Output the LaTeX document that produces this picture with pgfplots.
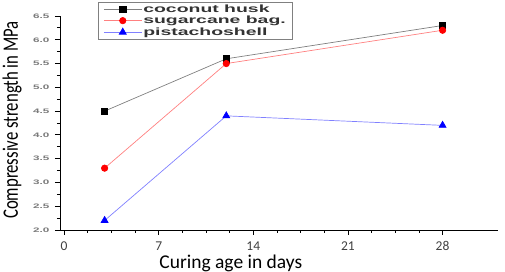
\documentclass[border=0pt]{standalone}
\usepackage{fontspec}
\setmainfont{Carlito}
\newfontfamily\tickfont{Liberation Sans Bold}[FakeStretch=1.8]
\newfontfamily\legfont{Liberation Sans Bold}[FakeStretch=1.85]
\newfontfamily\ylabfont{Carlito}[FakeStretch=0.76]
\usepackage{pgfplots}
\pgfplotsset{compat=1.18}
\definecolor{ticklab}{HTML}{7A7A7A}
\definecolor{xticklab}{HTML}{404040}
\definecolor{legtext}{HTML}{333333}
\definecolor{cocoline}{HTML}{808080}
\definecolor{sugarline}{HTML}{FF8080}
\definecolor{pistline}{HTML}{8080FF}
\begin{document}
\begin{tikzpicture}
\begin{axis}[
  name=ax,
  scale only axis, width=438pt, height=214pt,
  xmin=-0.3, xmax=32.1, ymin=2, ymax=6.5,
  axis lines*=left,
  axis line style={black, line width=0.8pt},
  xtick={0,7,14,21,28}, minor x tick num=3,
  ytick={2,2.5,...,6.5}, minor y tick num=1,
  tick align=outside,
  major tick length=5pt, minor tick length=3pt,
  tick style={black, line width=0.8pt},
  /pgf/number format/assume math mode=true,
  yticklabel style={font=\tickfont\fontsize{6.5}{7}\selectfont, text=ticklab,
    /pgf/number format/fixed, /pgf/number format/fixed zerofill, /pgf/number format/precision=1, xshift=-2pt},
  xticklabel style={font=\fontsize{13.5}{15}\selectfont, text=xticklab, yshift=-3pt},
  xlabel={Curing age in days},
  ylabel={Compressive strength in MPa},
  x label style={at={(axis description cs:0.39,-0.178)}, anchor=base, font=\fontsize{19.5}{22}\selectfont, text=black},
  y label style={at={(axis description cs:-0.0959,0.514)}, anchor=base, font=\ylabfont\fontsize{22}{24}\selectfont, text=black},
  legend image code/.code={\draw[mark repeat=2, mark phase=2, #1] plot coordinates {(0pt,0pt) (19pt,0pt) (38pt,0pt)};},
  legend style={at={(axis description cs:0.087,1.065)}, anchor=north west, draw=gray, line width=0.6pt,
    font=\legfont\fontsize{10.5}{11.5}\selectfont, text=legtext, inner xsep=5pt, inner ysep=1pt,
    nodes={inner sep=1.2pt}, row sep=0pt},
  legend cell align=left,
]
\addplot[color=cocoline, line width=0.7pt, mark=square*, mark size=3.2pt, mark options={fill=black, draw=black, solid}]
  coordinates {(3,4.5) (12,5.6) (28,6.3)};
\addlegendentry{coconut husk}
\addplot[color=sugarline, line width=0.7pt, mark=*, mark size=3.2pt, mark options={fill=red, draw=red, solid}]
  coordinates {(3,3.3) (12,5.5) (28,6.2)};
\addlegendentry{sugarcane bag.}
\addplot[color=pistline, line width=0.7pt, mark=triangle*, mark size=4pt, mark options={fill=blue, draw=blue, solid}]
  coordinates {(3,2.2) (12,4.4) (28,4.2)};
\addlegendentry{pistachoshell}
\end{axis}
\pgfresetboundingbox
\path ([xshift=-60pt,yshift=-42pt]ax.south west) rectangle ([xshift=7pt,yshift=16pt]ax.north east);
\end{tikzpicture}
\end{document}
